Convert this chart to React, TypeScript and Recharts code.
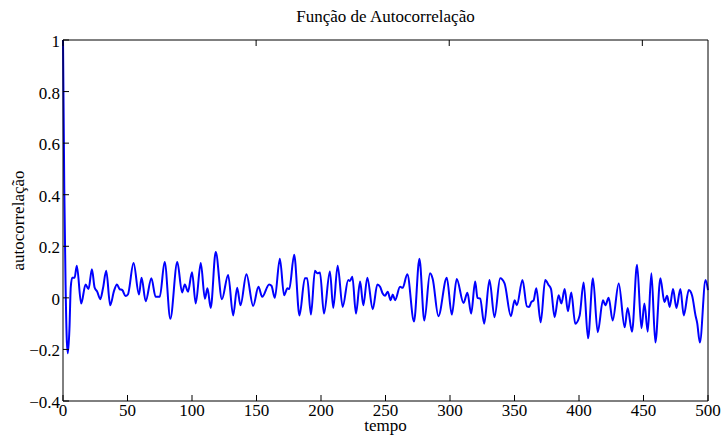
import { Line, LineChart, XAxis, YAxis } from 'recharts';

// lag (tempo) at each turning point of the sample autocorrelation
const lags = [
  0, 1, 2, 3, 3.8, 5, 6, 7.1, 9, 10.7, 14.1, 17.5, 19.8, 22.4, 24.5, 26.5, 28.9, 31, 33.5, 36.6,
  39.5, 41.8, 43.9, 46, 48.5, 50.3, 54.7, 58.9, 60.9, 64.1, 68.5, 71.8, 75, 78.8, 83.2, 88.6,
  92.3, 94.4, 96.9, 100, 102.9, 106.8, 110, 112, 114.5, 118.4, 123.2, 128, 131.9, 135, 137.6,
  142.2, 147.4, 151.5, 154.4, 159.8, 161.6, 164.2, 168.1, 171.4, 174, 175.4, 179.2, 183.3,
  187.5, 189.3, 192.2, 195.3, 197.1, 199.2, 202.3, 206.9, 209.5, 212.9, 216.8, 221.1, 222.4,
  224.3, 227.1, 230.3, 232.8, 235.9, 240.1, 243.7, 245.8, 247.8, 249.6, 251.7, 254, 255.6,
  257.4, 261.3, 263.3, 266.9, 272.1, 276.3, 280.1, 284.5, 286.6, 291, 297.5, 301.4, 305.2,
  310.5, 313.5, 316.4, 319.5, 321.3, 323.4, 326.5, 330.6, 334.5, 338.9, 342.3, 347.2, 350.1,
  351.8, 356.2, 359.6, 361.4, 363, 364.8, 366.9, 370.3, 373.8, 376.4, 378.3, 381.1, 384.2,
  386.3, 388.9, 391.4, 394, 397.1, 400.5, 403.6, 407, 410.8, 414.5, 418.6, 420.4, 423, 426.1,
  430.8, 435.4, 437.7, 441.1, 445, 448.4, 450.7, 453.3, 456.1, 459.2, 463.1, 466.2, 468.3,
  470.3, 472.9, 475.5, 478.6, 481.2, 485.1, 487.7, 490.3, 491.6, 493.7, 498.1, 500,
];

const acf = [
  1, 0.42, 0.05, -0.17, -0.215, -0.12, 0.04, 0.078, 0.078, 0.125, -0.022, 0.052, 0.034, 0.111,
  0.04, 0.024, -0.005, 0.037, 0.105, -0.029, 0.026, 0.052, 0.034, 0.03, 0.007, 0.013, 0.135,
  0.013, 0.078, -0.013, 0.076, 0.004, 0.004, 0.139, -0.081, 0.139, 0.021, 0.052, 0.024, 0.099,
  -0.022, 0.135, -0.003, 0.037, -0.039, 0.178, -0.005, 0.089, -0.068, 0.039, -0.029, 0.092,
  -0.031, 0.043, 0.004, 0.052, 0.047, 0, 0.152, 0.01, 0.037, 0.034, 0.167, -0.068, 0.076,
  0.076, -0.065, 0.105, 0.095, 0.098, -0.061, 0.102, -0.039, 0.125, -0.035, 0.069, 0.065,
  0.082, -0.061, 0.063, -0.029, 0.078, -0.044, 0.052, 0.043, 0.017, 0.008, 0.024, -0.009,
  0.013, -0.009, 0.043, 0.039, 0.092, -0.092, 0.152, -0.088, 0.095, 0.073, -0.071, 0.078,
  -0.065, 0.073, -0.02, 0.02, -0.061, 0.063, 0, -0.003, -0.1, 0.069, -0.075, 0.076, 0.056,
  -0.071, -0.009, -0.029, 0.069, -0.033, -0.035, -0.016, -0.01, 0.037, -0.095, 0.069, 0.05,
  0.034, -0.075, 0.01, -0.022, 0.034, -0.052, 0.021, -0.1, -0.068, 0.06, -0.157, 0.076,
  -0.133, -0.009, -0.029, 0, -0.088, 0.056, -0.114, -0.039, -0.131, 0.128, -0.118, -0.022,
  -0.131, 0.095, -0.173, 0.076, -0.016, 0.008, -0.035, 0.034, -0.039, 0.034, -0.068, 0.03,
  0.008, -0.068, -0.097, -0.173, 0.069, 0.03,
];

const xTicks = [0, 50, 100, 150, 200, 250, 300, 350, 400, 450, 500];
const yTicks = [-0.4, -0.2, 0, 0.2, 0.4, 0.6, 0.8, 1];

const data = lags.map((x, i) => ({ x, acf: acf[i] }));

const font = '"Liberation Serif", "Times New Roman", serif';
const txt = { fill: '#000', fontSize: 17, fontFamily: font };
const black = { stroke: '#000' };

const fmtY = (v: number) =>
  v === 0 || v === 1 ? String(v) : v.toFixed(1).replace('-', '\u2212');

// serif tick labels drawn by hand so the font sticks
function XTick({ x, y, payload }: any) {
  return (
    <text x={x} y={y} dy={12} textAnchor="middle" style={txt}>
      {payload.value}
    </text>
  );
}

function YTick({ x, y, payload }: any) {
  return (
    <text x={x} y={y} dy={7} textAnchor="end" style={txt}>
      {fmtY(payload.value)}
    </text>
  );
}

export default function App() {
  return (
    <div style={{ position: 'absolute', left: 0, top: 0, width: 724, height: 439, background: '#fff' }}>
      <LineChart
        width={724}
        height={439}
        data={data}
        margin={{ top: 39, right: 15, bottom: 8, left: 13 }}
        style={{ fontFamily: font }}
      >
        <XAxis
          dataKey="x"
          type="number"
          domain={[0, 500]}
          ticks={xTicks}
          interval={0}
          height={30}
          tickSize={-6}
          tickMargin={9}
          tick={<XTick />}
          axisLine={black}
          tickLine={black}
          label={{ value: 'tempo', position: 'insideBottom', offset: 0, style: txt }}
        />
        {/* top edge of the box, ticks only */}
        <XAxis
          xAxisId="top"
          orientation="top"
          type="number"
          domain={[0, 500]}
          ticks={xTicks}
          interval={0}
          height={1}
          tickSize={-6}
          tickFormatter={() => ''}
          axisLine={black}
          tickLine={black}
          label={{ value: 'Função de Autocorrelação', position: 'top', offset: 17, style: txt }}
        />
        <YAxis
          type="number"
          domain={[-0.4, 1]}
          ticks={yTicks}
          interval={0}
          width={50}
          tickSize={-6}
          tickMargin={9}
          tick={<YTick />}
          axisLine={black}
          tickLine={black}
          label={{ value: 'autocorrelação', angle: -90, position: 'insideLeft', offset: 5, style: { ...txt, textAnchor: 'middle' } }}
        />
        {/* right edge of the box */}
        <YAxis
          yAxisId="right"
          orientation="right"
          type="number"
          domain={[-0.4, 1]}
          ticks={yTicks}
          interval={0}
          width={1}
          tickSize={-6}
          tickFormatter={() => ''}
          axisLine={black}
          tickLine={black}
        />
        <Line
          type="monotone"
          dataKey="acf"
          stroke="#0000ff"
          strokeWidth={2}
          dot={false}
          isAnimationActive={false}
        />
      </LineChart>
    </div>
  );
}
